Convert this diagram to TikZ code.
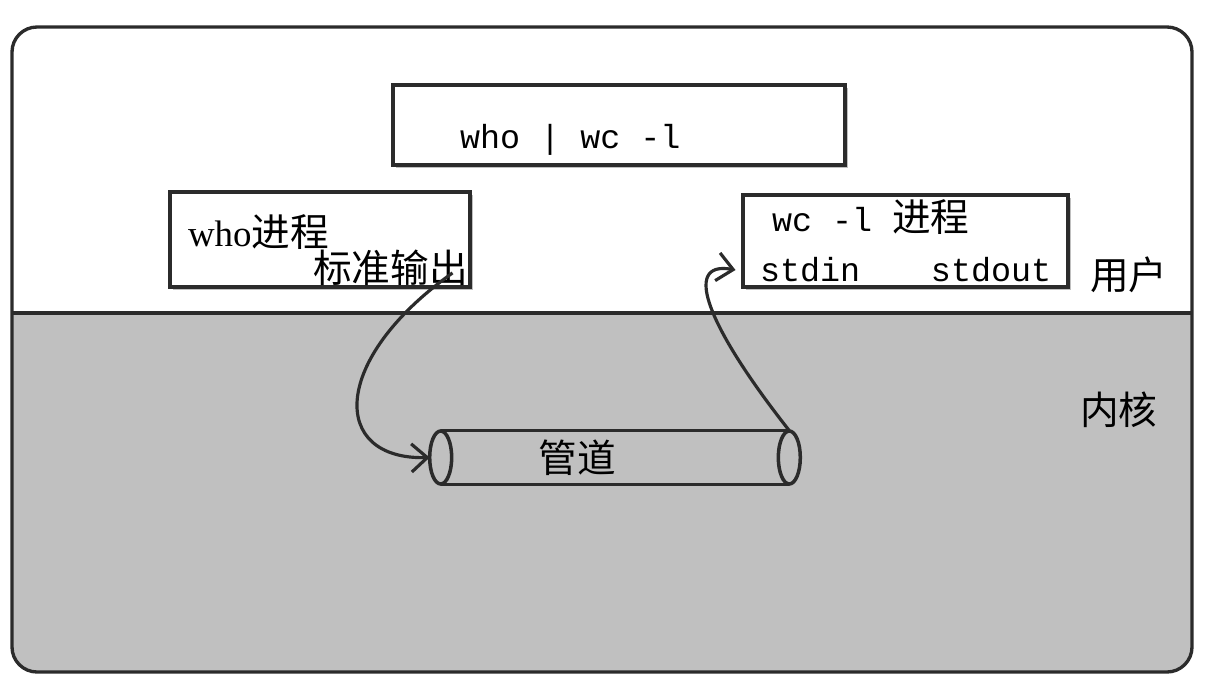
\documentclass[tikz,border=0pt]{standalone}
\usepackage{fontspec}
\setmainfont{Liberation Serif}
\setmonofont{Liberation Mono}
\newfontfamily\cjk{Noto Sans CJK SC}
\usepackage{tikz}
\usetikzlibrary{arrows.meta,positioning,calc,shadows}
\definecolor{kernelgray}{HTML}{C0C0C0}
\definecolor{inkline}{HTML}{2B2B2B}

\begin{document}
\begin{tikzpicture}[x=0.02cm, y=-0.02cm,
  procbox/.style={draw=inkline, line width=1.9pt, fill=white, minimum width=6cm, minimum height=1.9cm, drop shadow={shadow xshift=1.5pt, shadow yshift=-1.5pt, opacity=0.5}},
  code/.style={font=\fontsize{19}{22}\selectfont\ttfamily, inner sep=1pt},
  zh/.style={font=\fontsize{22}{24}\selectfont\cjk, inner sep=1pt},
  pipeline/.style={draw=inkline, line width=2pt},
  arr/.style={-{Straight Barb[length=9pt, width=16pt]}, line width=1.8pt, inkline}
]
  \useasboundingbox (0,0) rectangle (1205,683);

  \begin{scope}
    \clip[rounded corners=0.5cm] (12,27) rectangle (1192,672);
    \fill[kernelgray] (12,313) rectangle (1192,672);
  \end{scope}
  \draw[inkline, line width=1.9pt, rounded corners=0.5cm] (12,27) rectangle (1192,672);
  \draw[inkline, line width=2pt] (12,313) -- (1192,313);

  \node[procbox, minimum width=9.04cm, minimum height=1.6cm] (cmdbox) at (619,125) {};
  \node[code, anchor=west] (cmdline) at (458,140) {who | wc -l};

  \node[procbox] (whobox) at (320,239.5) {};
  \node[anchor=west, inner sep=1pt] (whoname) at (186,232) {\fontsize{21}{24}\selectfont who{\cjk\fontsize{22}{24}\selectfont 进程}};
  \node[zh, anchor=east] (whoout) at (470,268) {标准输出};

  \node[procbox, minimum width=6.5cm, minimum height=1.84cm] (wcbox) at (905.5,241) {};
  \node[code, anchor=west] (wcname) at (770,217) {wc -l {\cjk\fontsize{22}{24}\selectfont 进程}};
  \node[code, anchor=west] (stdin) at (758,270) {stdin};
  \node[code, right=1.33cm of stdin] (stdout) {stdout};

  \node[zh, anchor=west] (user) at (1088,275) {用户};
  \node[zh, anchor=west] (kernel) at (1078,410) {内核};

  \node[minimum width=6.96cm, minimum height=1.06cm, inner sep=0pt] (pipe) at (615,457.5) {};
  \draw[pipeline] (pipe.north west) -- (pipe.north east);
  \draw[pipeline] (pipe.south west) -- (pipe.south east);
  \draw[pipeline] (pipe.west) ellipse [x radius=0.22cm, y radius=0.53cm];
  \draw[pipeline] (pipe.east) ellipse [x radius=0.22cm, y radius=0.53cm];
  \node[zh] (pipelabel) at (577,458) {管道};

  \draw[arr] ($(whoout.south east)+(-0.35cm,0.3cm)$) .. controls (330,360) and (330,460) .. ([xshift=-0.22cm]pipe.west);
  \draw[arr] (pipe.north east) .. controls (710,330) and (680,260) .. ([xshift=-0.45cm]stdin.west);
\end{tikzpicture}
\end{document}
